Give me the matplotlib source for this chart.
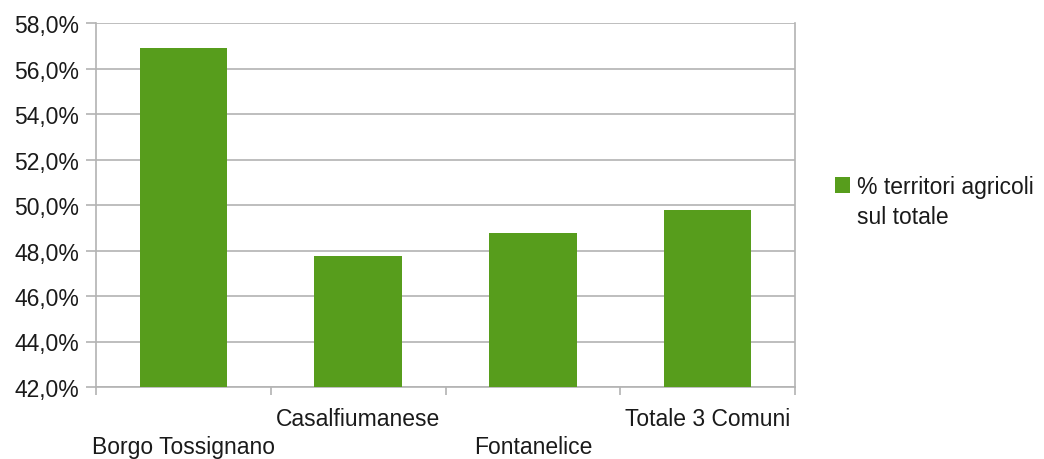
import matplotlib
matplotlib.use("Agg")
import matplotlib.pyplot as plt
from matplotlib.transforms import ScaledTranslation
from matplotlib.ticker import FuncFormatter

# dati
comuni = ["Borgo Tossignano", "Casalfiumanese", "Fontanelice", "Totale 3 Comuni"]
perc_agricoli = [56.9, 47.75, 48.75, 49.8]
serie_righe = ["% territori agricoli", "sul totale"]
y_ticks = [42, 44, 46, 48, 50, 52, 54, 56, 58]

VERDE = "#579d1c"
GRIGIO = "#b3b3b3"

plt.rcParams["font.family"] = ["Liberation Sans", "DejaVu Sans"]
plt.rcParams["font.size"] = 16.5
plt.rcParams["text.color"] = "#1a1a1a"
plt.rcParams["xtick.labelcolor"] = "#1a1a1a"
plt.rcParams["ytick.labelcolor"] = "#1a1a1a"

fig = plt.figure(figsize=(10.44, 4.6), dpi=100)
ax = fig.add_axes([96 / 1044, 1 - 388 / 460, (795 - 96) / 1044, (388 - 24) / 460])

x = range(len(comuni))
ax.bar(x, perc_agricoli, width=0.5, color=VERDE, label=serie_righe[0], zorder=3)

ax.set_xlim(-0.5, len(comuni) - 0.5)
ax.set_ylim(42, 58)
ax.set_yticks(y_ticks)
ax.yaxis.set_major_formatter(FuncFormatter(lambda v, p: f"{v:.1f}%".replace(".", ",")))
ax.grid(axis="y", color=GRIGIO, linewidth=1.2, zorder=0)

# etichette categorie sfalsate su due righe
ax.set_xticks(list(x))
ax.set_xticklabels(comuni)
ax.set_xticks([i - 0.5 for i in range(len(comuni) + 1)], minor=True)
ax.tick_params(axis="x", which="major", length=0, pad=14.5)
ax.tick_params(axis="x", which="minor", length=6, width=1.2, color=GRIGIO)
ax.tick_params(axis="y", length=7, width=1.2, color=GRIGIO, pad=5)
for i, lab in enumerate(ax.get_xticklabels()):
    if i % 2 == 0:
        lab.set_transform(lab.get_transform() + ScaledTranslation(0, -0.28, fig.dpi_scale_trans))

for s in ["left", "right", "bottom"]:
    ax.spines[s].set_color(GRIGIO)
    ax.spines[s].set_linewidth(1.2)
ax.spines["top"].set_visible(False)

# legenda: quadratino allineato alla prima riga
fig.legend(loc="center left", bbox_to_anchor=(814 / 1044, 1 - 187.5 / 460),
           frameon=False, handlelength=0.66, handleheight=0.66, handletextpad=0.3)
fig.text(857 / 1044, 1 - 217 / 460, serie_righe[1], va="center", ha="left")

fig.savefig("out.png", dpi=100)
